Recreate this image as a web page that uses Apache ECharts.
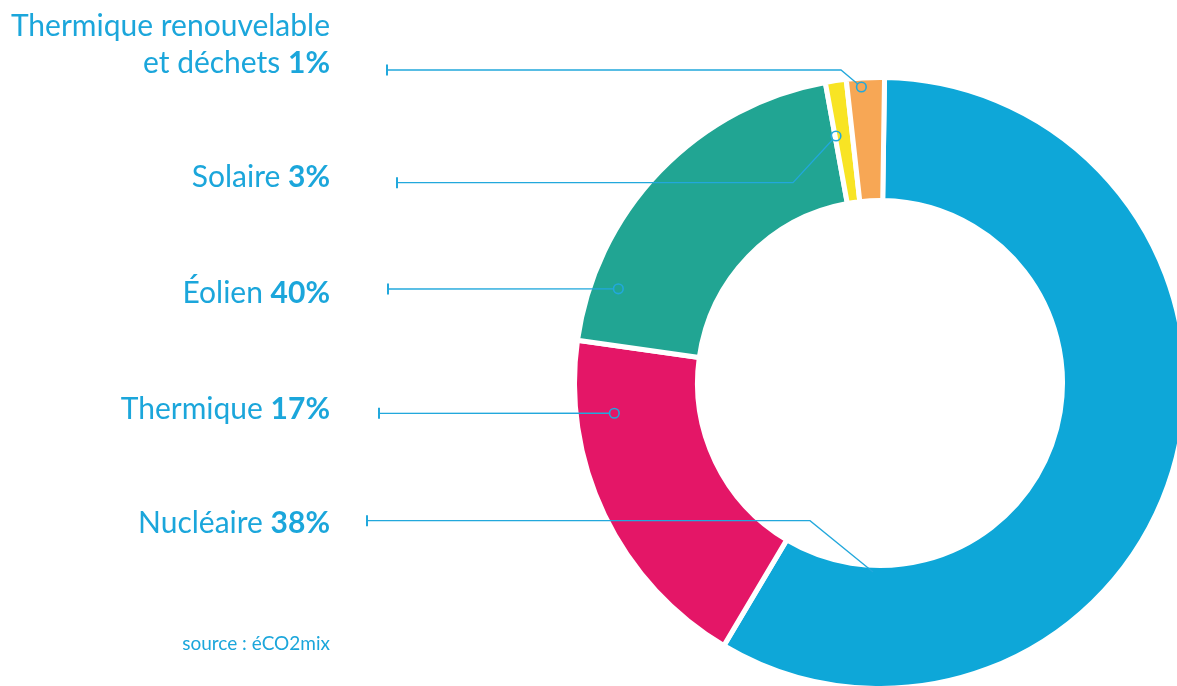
<!DOCTYPE html>
<html><head><meta charset="utf-8">
<script src="https://cdn.jsdelivr.net/npm/echarts@6/dist/echarts.min.js"></script>
<style>html,body{margin:0;padding:0;background:#fff}#c{width:1177px;height:686px}</style>
</head><body><div id="c"></div>
<script>
// ---- data ----
const categories = ['Nucléaire', 'Thermique', 'Éolien', 'Solaire', 'Thermique renouvelable et déchets'];
const sliceValues = [58.3, 18.7, 19.9, 1.1, 2.0];
const labelNames = ['Nucléaire', 'Thermique', 'Éolien', 'Solaire', 'Thermique renouvelable\net déchets'];
const labelPercents = ['38%', '17%', '40%', '3%', '1%'];
const sourceText = 'source : éCO2mix';

// ---- styling / layout ----
const sliceColors = ['#0ea7d8', '#e41667', '#21a593', '#f8e424', '#f7a755'];
const TEXT_COLOR = '#1ba6db';
const LINE_COLOR = '#22a8dc';
const FONT = 'Lato';
const FONT_SIZE = 30;
const LINE_H = 37;
const PIE = { cx: 880, cy: 383, r0: 182.5, r1: 305.5, start: 89.15 };
const LABEL_RIGHT = 330;
// annotation geometry: anchor = [angle clockwise from north (deg), radius px] relative to pie centre
const annot = [
  { textY: 523, tickX: 367, lineY: 520.7, bendX: 810, anchor: [182.1, 189.1], dot: false },
  { textY: 409, tickX: 379, lineY: 413.3, bendX: null, anchor: [263.5, 267.4], dot: true },
  { textY: 293, tickX: 388, lineY: 289, bendX: null, anchor: [289.8, 278.1], dot: true },
  { textY: 177, tickX: 397, lineY: 182.7, bendX: 793, anchor: [349.9, 250.9], dot: true },
  { textY: 45, tickX: 387, lineY: 70, bendX: 841, anchor: [356.4, 296.6], dot: true }
];
const DOT_R = 4.8;

function polar(a, r) {
  const rad = a * Math.PI / 180;
  return [PIE.cx + r * Math.sin(rad), PIE.cy - r * Math.cos(rad)];
}

const graphics = [];
annot.forEach((g, i) => {
  graphics.push({
    type: 'text', z: 100, silent: true,
    style: {
      text: labelNames[i] + ' {b|' + labelPercents[i] + '}',
      x: LABEL_RIGHT, y: g.textY, align: 'right', verticalAlign: 'middle',
      fill: TEXT_COLOR, fontFamily: FONT, fontSize: FONT_SIZE, lineHeight: LINE_H,
      rich: { b: { fontFamily: FONT, fontSize: FONT_SIZE, fontWeight: 'bold', fill: TEXT_COLOR, lineHeight: LINE_H } }
    }
  });
  const a = polar(g.anchor[0], g.anchor[1]);
  const pts = [[g.tickX, g.lineY]];
  if (g.bendX !== null) pts.push([g.bendX, g.lineY]);
  const prev = pts[pts.length - 1];
  let end = a;
  if (g.dot) {
    const dx = a[0] - prev[0], dy = a[1] - prev[1];
    const len = Math.sqrt(dx * dx + dy * dy);
    end = [a[0] - dx / len * DOT_R, a[1] - dy / len * DOT_R];
  }
  pts.push(end);
  graphics.push({ type: 'polyline', z: 100, silent: true, shape: { points: pts },
    style: { stroke: LINE_COLOR, lineWidth: 1.3, fill: null } });
  graphics.push({ type: 'line', z: 100, silent: true,
    shape: { x1: g.tickX, y1: g.lineY - 5.5, x2: g.tickX, y2: g.lineY + 5.5 },
    style: { stroke: LINE_COLOR, lineWidth: 2 } });
  if (g.dot) {
    graphics.push({ type: 'circle', z: 100, silent: true,
      shape: { cx: a[0], cy: a[1], r: DOT_R },
      style: { fill: null, stroke: LINE_COLOR, lineWidth: 1.6 } });
  }
});
graphics.push({
  type: 'text', z: 100, silent: true,
  style: { text: sourceText, x: LABEL_RIGHT, y: 644, align: 'right', verticalAlign: 'middle',
    fill: TEXT_COLOR, fontFamily: FONT, fontSize: 19 }
});

const chart = echarts.init(document.getElementById('c'), null, { renderer: 'canvas' });
chart.setOption({
  animation: false,
  backgroundColor: '#ffffff',
  series: [{
    type: 'pie',
    center: [PIE.cx, PIE.cy],
    radius: [PIE.r0, PIE.r1],
    startAngle: PIE.start,
    clockwise: true,
    silent: true,
    label: { show: false },
    labelLine: { show: false },
    itemStyle: { borderColor: '#ffffff', borderWidth: 5 },
    data: categories.map((c, i) => ({ name: c, value: sliceValues[i], itemStyle: { color: sliceColors[i] } }))
  }],
  graphic: graphics
});
</script>
</body></html>
